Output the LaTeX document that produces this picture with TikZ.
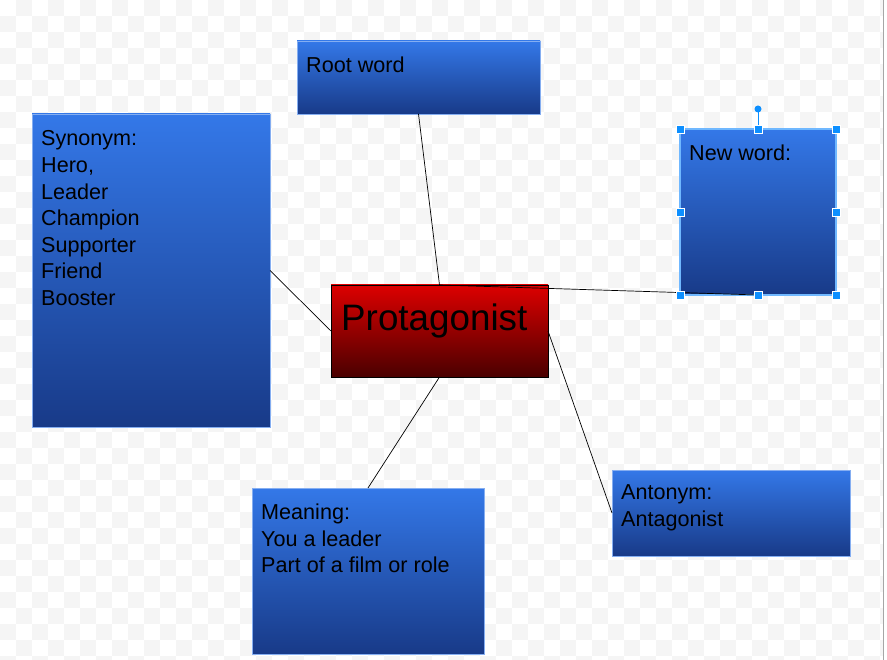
\documentclass[tikz,border=0pt]{standalone}
\usepackage{fontspec}
\setmainfont{Liberation Sans}
\definecolor{btop}{HTML}{3478E8}
\definecolor{bbot}{HTML}{183A88}
\definecolor{rtop}{HTML}{DD0000}
\definecolor{rbot}{HTML}{4A0000}
\definecolor{chk}{HTML}{F5F5F5}
\definecolor{sel}{HTML}{0D8FFF}
\definecolor{selb}{HTML}{70B8FF}
\tikzset{
  bluebox/.style={rectangle, anchor=north west, inner sep=0pt, outer sep=0pt,
    top color=btop, bottom color=bbot, draw=btop!60!white, line width=0.6pt},
  redbox/.style={rectangle, anchor=north west, inner sep=0pt, outer sep=0pt,
    top color=rtop, bottom color=rbot, draw=black, line width=0.8pt},
  lbl/.style={anchor=north west, inner sep=0pt, align=left,
    font=\fontsize{21.6}{26.6}\selectfont, text=black},
  link/.style={draw=black, line width=0.7pt},
  handle/.style={fill=sel, draw=white, line width=0.6pt}
}
\begin{document}
\begin{tikzpicture}[x=1pt, y=-1pt]
\useasboundingbox (0,0) rectangle (887,660);
\fill[white] (0,0) rectangle (887,660);
\foreach \x in {0,32,...,880} \foreach \y in {0,32,...,656} {
  \fill[chk] (\x+16,\y) rectangle ++(16,16);
  \fill[chk] (\x,\y+16) rectangle ++(16,16);
}
\fill[white] (884,0) rectangle (887,660);
\draw[gray!70, line width=1.5pt] (883.5,0) -- (883.5,660);

% boxes
\node[bluebox, minimum width=243pt, minimum height=73pt] (root) at (297,41) {};
\node[bluebox, minimum width=238pt, minimum height=313pt] (syn) at (32,114) {};
\node[bluebox, minimum width=156pt, minimum height=166pt, draw=selb, line width=2pt] (new) at (680,129) {};
\node[redbox, minimum width=217pt, minimum height=92pt] (prot) at (331,285) {};
\node[bluebox, minimum width=232pt, minimum height=166pt] (mean) at (252,488) {};
\node[bluebox, minimum width=238pt, minimum height=86pt] (ant) at (612,470) {};

% connectors
\draw[link] (root.south) -- (prot.north);
\draw[link] (syn.east) -- (prot.west);
\draw[link] (prot.north) -- (new.south);
\draw[link] (prot.south) -- (mean.north);
\draw[link] (prot.east) -- (ant.west);

% texts
\node[lbl] (rootT) at (306,56.6) {Root word};
\node[lbl] (synT) at (41,130.6) {Synonym:\\Hero,\\Leader\\Champion\\Supporter\\Friend\\Booster};
\node[lbl] (newT) at (689,144.6) {New word:};
\node[lbl, font=\fontsize{36.8}{44}\selectfont] (protT) at (341,303.7) {Protagonist};
\node[lbl] (meanT) at (261,503.6) {Meaning:\\You a leader\\Part of a film or role};
\node[lbl] (antT) at (621,484.6) {Antonym:\\Antagonist};

% selection handles on "New word"
\draw[sel, line width=1pt] (758,112) -- (758,125);
\fill[sel] (758,109) circle (3.5);
\foreach \hx/\hy in {680/129,758/129,836/129,680/212,836/212,680/295,758/295,836/295}
  \filldraw[handle] (\hx-4,\hy-4) rectangle (\hx+4,\hy+4);
\end{tikzpicture}
\end{document}
